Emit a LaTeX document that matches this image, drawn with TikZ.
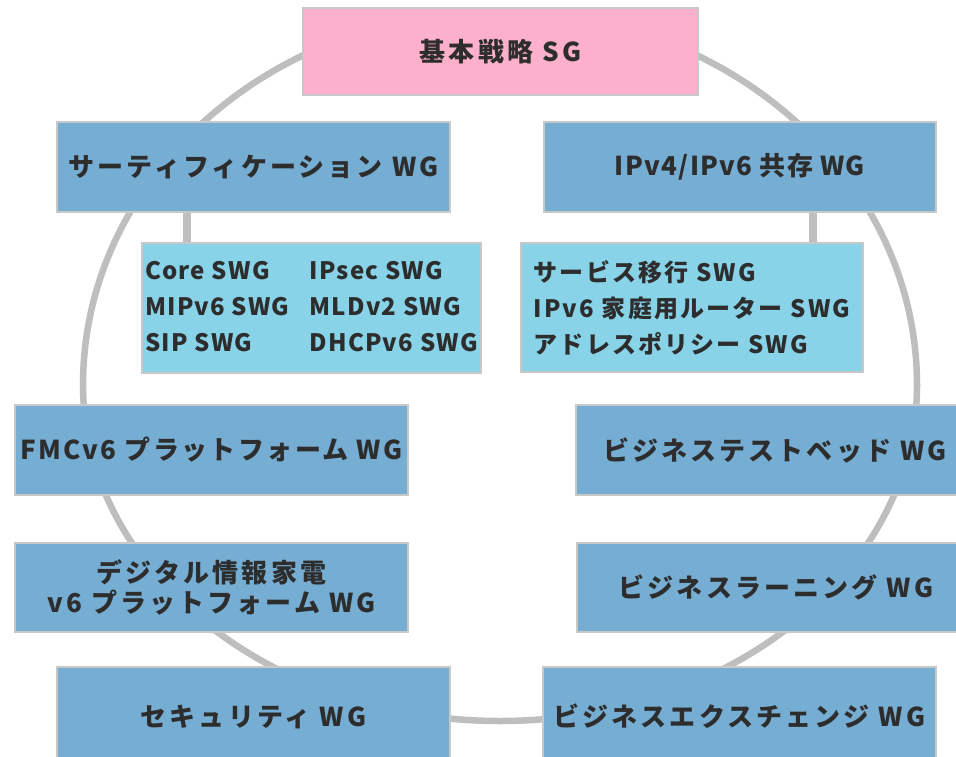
\documentclass[tikz,border=0pt]{standalone}
\usepackage{fontspec}
\setmainfont{Noto Sans CJK JP}[LetterSpace=12]
\newfontfamily\tightfont{Noto Sans CJK JP}[LetterSpace=5]
\newfontfamily\midfont{Noto Sans CJK JP}[LetterSpace=9]
\definecolor{sgpink}{RGB}{252,176,203}
\definecolor{wgblue}{RGB}{118,173,211}
\definecolor{swgcyan}{RGB}{136,211,232}
\definecolor{ringgray}{RGB}{190,190,190}
\definecolor{edgegray}{RGB}{200,200,200}
\definecolor{txt}{RGB}{45,45,45}
\tikzset{
  box/.style={draw=edgegray, line width=1.5pt, text=txt, inner sep=0pt,
    font=\bfseries\fontsize{26}{30}\selectfont, align=center},
  sgbox/.style={box, fill=sgpink},
  wgbox/.style={box, fill=wgblue},
  swgbox/.style={box, fill=swgcyan, align=left},
  ring/.style={draw=ringgray, line width=6.5pt},
  stub/.style={draw=ringgray, line width=8pt}
}
\begin{document}
\begin{tikzpicture}[x=1pt,y=-1pt]
\useasboundingbox (0,0) rectangle (956,756);
\fill[white] (0,0) rectangle (956,756);
% ring
\begin{scope}
  \clip (0,0) rectangle (956,385);
  \draw[ring] (500,385) ellipse [x radius=417pt, y radius=374pt];
\end{scope}
\begin{scope}
  \clip (0,385) rectangle (956,756);
  \draw[ring] (500,385) ellipse [x radius=417pt, y radius=336pt];
\end{scope}
% nodes
\node[sgbox, minimum width=395pt, minimum height=87pt] (sg) at (500.5,51.5) {基本戦略 SG};
\node[wgbox, minimum width=393pt, minimum height=90pt] (cert) at (253.5,167) {サーティフィケーション WG};
\node[wgbox, minimum width=392pt, minimum height=90pt, font=\tightfont\bfseries\fontsize{26}{30}\selectfont] (ipv) at (740,167) {IPv4/IPv6 共存 WG};
\coordinate (sL) at (187,0);
\coordinate (sR) at (813,0);
\node[swgbox, minimum width=339pt, minimum height=130pt, font=\tightfont\bfseries\fontsize{24}{36}\selectfont] (swgL) at (311.5,308)
  {\begin{tabular}{@{}l@{\hspace{20pt}}l@{}}Core SWG & IPsec SWG\\ MIPv6 SWG & MLDv2 SWG\\ SIP SWG & DHCPv6 SWG\end{tabular}};
\node[swgbox, minimum width=342pt, minimum height=129pt, font=\midfont\bfseries\fontsize{24}{36}\selectfont] (swgR) at (692,307.5)
  {サービス移行 SWG\\ IPv6 家庭用ルーター SWG\\ アドレスポリシー SWG};
\draw[stub] (cert.south -| sL) -- (swgL.north -| sL);
\draw[stub] (ipv.south -| sR) -- (swgR.north -| sR);
\node[wgbox, minimum width=393pt, minimum height=90pt, font=\midfont\bfseries\fontsize{26}{30}\selectfont] (fmc) at (211.5,450) {FMCv6 プラットフォーム WG};
\node[wgbox, minimum width=393pt, minimum height=89pt] (dig) at (211.5,587.5) {デジタル情報家電\\ v6 プラットフォーム WG};
\node[wgbox, minimum width=393pt, minimum height=99pt] (sec) at (253.5,716.5) {セキュリティ WG};
\node[wgbox, minimum width=398pt, minimum height=90pt] (test) at (775,450) {ビジネステストベッド WG};
\node[wgbox, minimum width=398pt, minimum height=89pt] (learn) at (776,587.5) {ビジネスラーニング WG};
\node[wgbox, minimum width=393pt, minimum height=99pt] (exch) at (739.5,716.5) {ビジネスエクスチェンジ WG};
\end{tikzpicture}
\end{document}
